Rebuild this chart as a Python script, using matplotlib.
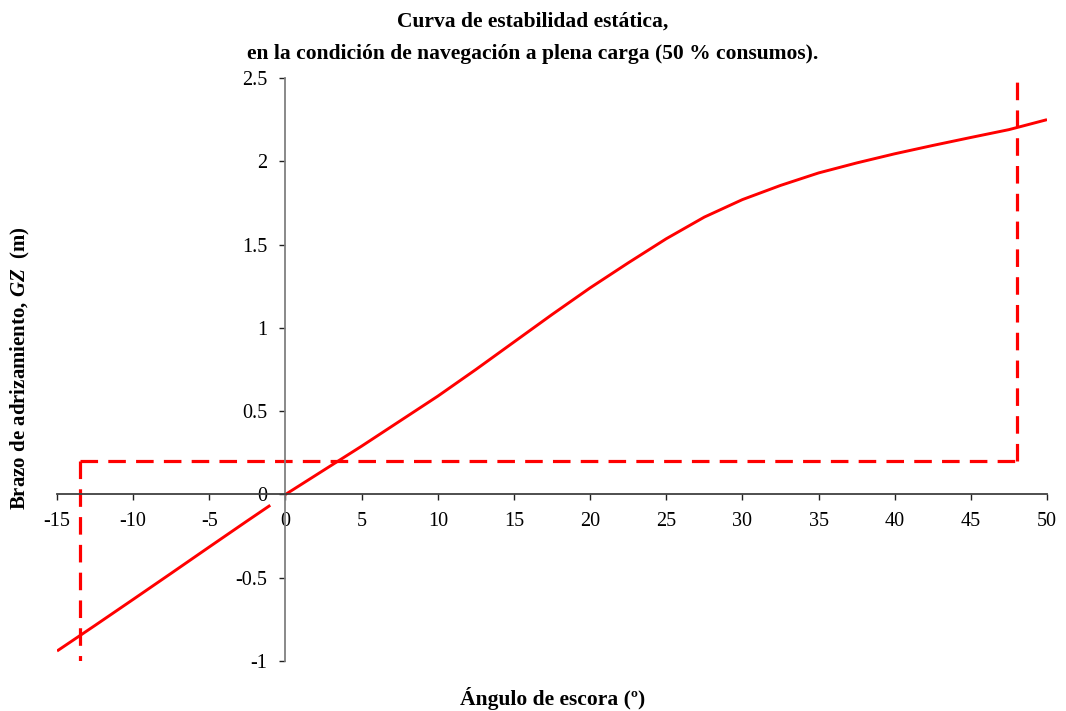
import matplotlib
matplotlib.use("Agg")
import matplotlib.pyplot as plt

plt.rcParams['font.family'] = ['Liberation Serif', 'DejaVu Serif']
plt.rcParams['mathtext.fontset'] = 'custom'
plt.rcParams['mathtext.rm'] = 'Liberation Serif:bold'
plt.rcParams['mathtext.it'] = 'Liberation Serif:italic:bold'
plt.rcParams['mathtext.bf'] = 'Liberation Serif:bold'

# GZ curve, positive heel angles (deg, m)
angle_pos = [0, 2.5, 5, 7.5, 10, 12.5, 15, 17.5, 20, 22.5, 25, 27.5, 30,
             32.5, 35, 37.5, 40, 42.5, 45, 47.5, 50]
gz_pos = [0.0, 0.145, 0.29, 0.44, 0.59, 0.75, 0.915, 1.08, 1.24, 1.39, 1.535,
          1.665, 1.77, 1.855, 1.93, 1.99, 2.045, 2.095, 2.143, 2.19, 2.25]

# GZ curve, negative heel angles
angle_neg = [-15, -12.5, -10, -7.5, -5, -2.5, -1]
gz_neg = [-0.94, -0.786, -0.63, -0.473, -0.315, -0.158, -0.065]

# Limit lines
gz_limit = 0.2
angle_min = -13.5
angle_max = 48

xticks = list(range(-15, 55, 5))
yticks = [-1, -0.5, 0, 0.5, 1, 1.5, 2, 2.5]

fig = plt.figure(figsize=(10.66, 7.11), dpi=100)
ax = fig.add_axes([0.0535, 0.0703, 0.9287, 0.82])

red = '#ff0000'
ax.plot(angle_pos, gz_pos, color=red, lw=2.1, solid_capstyle='butt',
        solid_joinstyle='round')
ax.plot(angle_neg, gz_neg, color=red, lw=2.1, solid_capstyle='butt',
        solid_joinstyle='round')

dash = dict(color=red, lw=2.3, dashes=(5.5, 3.2), dash_capstyle='butt')
ax.plot([angle_min, angle_max], [gz_limit, gz_limit], **dash)
ax.plot([angle_min, angle_min], [gz_limit, -1.01], **dash)
ax.plot([angle_max, angle_max], [gz_limit, 2.5], **dash)

ax.set_xlim(-15, 50)
ax.set_ylim(-1, 2.5)
ax.set_xticks(xticks)
ax.set_xticklabels([str(v) for v in xticks])
ax.set_yticks(yticks)
ax.set_yticklabels(['-1', '-0.5', '0', '0.5', '1', '1.5', '2', '2.5'])

for s in ('top', 'right'):
    ax.spines[s].set_visible(False)
ax.spines['left'].set_position(('data', 0))
ax.spines['bottom'].set_position(('data', 0))
ax.spines['left'].set_color('#808080')
ax.spines['bottom'].set_color('#404040')
ax.spines['left'].set_linewidth(1.3)
ax.spines['bottom'].set_linewidth(1.3)

ax.tick_params(axis='both', direction='out', length=4, width=1,
               color='#202020', labelsize=14.5, pad=9)

fig.text(0.5, 0.969, 'Curva de estabilidad estática,', ha='center',
         va='center', fontsize=15.5, fontweight='bold')
fig.text(0.5, 0.924, 'en la condición de navegación a plena carga (50 % consumos).',
         ha='center', va='center', fontsize=15.5, fontweight='bold')
fig.text(0.518, 0.018, 'Ángulo de escora (º)', ha='center', va='center',
         fontsize=15.5, fontweight='bold')
fig.text(0.019, 0.482, r'Brazo de adrizamiento, $\mathit{GZ}$  (m)',
         rotation=90, ha='center', va='center', fontsize=15, fontweight='bold')

fig.savefig('out.png', dpi=100)
